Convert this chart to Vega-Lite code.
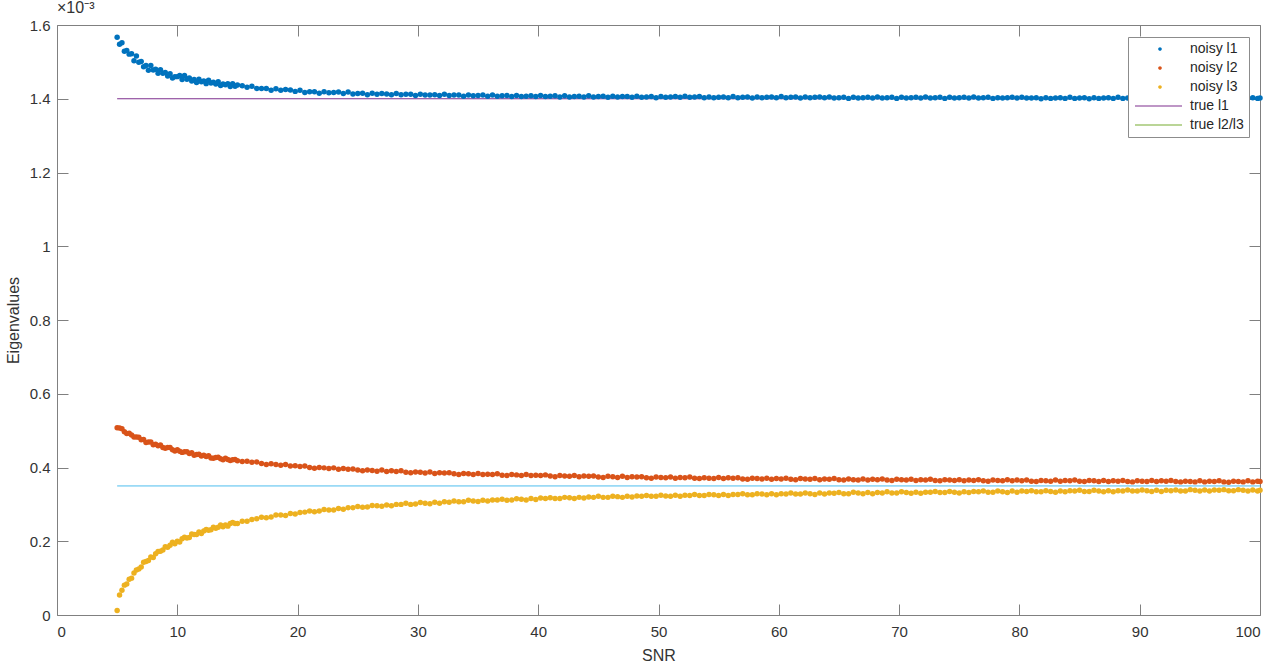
{
  "$schema": "https://vega.github.io/schema/vega-lite/v6.json",
  "width": 1203,
  "height": 590,
  "autosize": {"type": "none"},
  "padding": {"left": 57, "top": 25, "right": 20, "bottom": 56},
  "background": "white",
  "title": {"text": "×10⁻³", "anchor": "start", "frame": "group", "fontSize": 16, "fontWeight": "normal", "color": "#333333", "font": "Liberation Sans", "offset": 2},
  "config": {
    "view": {"stroke": "#808080", "strokeWidth": 1},
    "font": "Liberation Sans",
    "axis": {"grid": false, "domain": false, "tickColor": "#808080", "tickSize": -11, "labelFontSize": 15, "labelColor": "#333333", "titleFontSize": 16, "titleFontWeight": "normal", "titleColor": "#333333", "labelFont": "Liberation Sans", "titleFont": "Liberation Sans"}
  },
  "datasets": {
    "truth": [
      {"s": 5, "v": 1.4, "series": "true l1"},
      {"s": 100, "v": 1.4, "series": "true l1"},
      {"s": 5, "v": 0.35, "series": "true l2/l3"},
      {"s": 100, "v": 0.35, "series": "true l2/l3"}
    ],
    "noisy": [
      {"s":5.0,"noisy l1":1.567,"noisy l2":0.508,"noisy l3":0.012},
      {"s":5.2,"noisy l1":1.548,"noisy l2":0.507,"noisy l3":0.054},
      {"s":5.4,"noisy l1":1.552,"noisy l2":0.505,"noisy l3":0.067},
      {"s":5.6,"noisy l1":1.529,"noisy l2":0.497,"noisy l3":0.081},
      {"s":5.8,"noisy l1":1.531,"noisy l2":0.492,"noisy l3":0.084},
      {"s":6.0,"noisy l1":1.521,"noisy l2":0.493,"noisy l3":0.097},
      {"s":6.2,"noisy l1":1.522,"noisy l2":0.488,"noisy l3":0.100},
      {"s":6.4,"noisy l1":1.503,"noisy l2":0.483,"noisy l3":0.114},
      {"s":6.6,"noisy l1":1.516,"noisy l2":0.483,"noisy l3":0.122},
      {"s":6.8,"noisy l1":1.499,"noisy l2":0.482,"noisy l3":0.125},
      {"s":7.0,"noisy l1":1.501,"noisy l2":0.475,"noisy l3":0.130},
      {"s":7.2,"noisy l1":1.487,"noisy l2":0.476,"noisy l3":0.143},
      {"s":7.4,"noisy l1":1.490,"noisy l2":0.468,"noisy l3":0.145},
      {"s":7.6,"noisy l1":1.477,"noisy l2":0.469,"noisy l3":0.148},
      {"s":7.8,"noisy l1":1.490,"noisy l2":0.469,"noisy l3":0.157},
      {"s":8.0,"noisy l1":1.478,"noisy l2":0.462,"noisy l3":0.156},
      {"s":8.2,"noisy l1":1.480,"noisy l2":0.463,"noisy l3":0.166},
      {"s":8.4,"noisy l1":1.469,"noisy l2":0.459,"noisy l3":0.172},
      {"s":8.6,"noisy l1":1.479,"noisy l2":0.461,"noisy l3":0.173},
      {"s":8.8,"noisy l1":1.469,"noisy l2":0.454,"noisy l3":0.176},
      {"s":9.0,"noisy l1":1.471,"noisy l2":0.452,"noisy l3":0.185},
      {"s":9.2,"noisy l1":1.462,"noisy l2":0.454,"noisy l3":0.184},
      {"s":9.4,"noisy l1":1.468,"noisy l2":0.454,"noisy l3":0.189},
      {"s":9.6,"noisy l1":1.456,"noisy l2":0.448,"noisy l3":0.197},
      {"s":9.8,"noisy l1":1.460,"noisy l2":0.445,"noisy l3":0.193},
      {"s":10.0,"noisy l1":1.460,"noisy l2":0.448,"noisy l3":0.200},
      {"s":10.2,"noisy l1":1.463,"noisy l2":0.444,"noisy l3":0.198},
      {"s":10.4,"noisy l1":1.452,"noisy l2":0.441,"noisy l3":0.207},
      {"s":10.6,"noisy l1":1.463,"noisy l2":0.443,"noisy l3":0.211},
      {"s":10.8,"noisy l1":1.453,"noisy l2":0.443,"noisy l3":0.209},
      {"s":11.0,"noisy l1":1.456,"noisy l2":0.438,"noisy l3":0.210},
      {"s":11.2,"noisy l1":1.448,"noisy l2":0.440,"noisy l3":0.220},
      {"s":11.4,"noisy l1":1.452,"noisy l2":0.433,"noisy l3":0.218},
      {"s":11.6,"noisy l1":1.444,"noisy l2":0.435,"noisy l3":0.218},
      {"s":11.8,"noisy l1":1.453,"noisy l2":0.436,"noisy l3":0.225},
      {"s":12.0,"noisy l1":1.446,"noisy l2":0.431,"noisy l3":0.221},
      {"s":12.2,"noisy l1":1.448,"noisy l2":0.433,"noisy l3":0.228},
      {"s":12.4,"noisy l1":1.441,"noisy l2":0.430,"noisy l3":0.232},
      {"s":12.6,"noisy l1":1.450,"noisy l2":0.432,"noisy l3":0.230},
      {"s":12.8,"noisy l1":1.443,"noisy l2":0.426,"noisy l3":0.231},
      {"s":13.0,"noisy l1":1.445,"noisy l2":0.425,"noisy l3":0.238},
      {"s":13.2,"noisy l1":1.440,"noisy l2":0.427,"noisy l3":0.235},
      {"s":13.4,"noisy l1":1.446,"noisy l2":0.428,"noisy l3":0.238},
      {"s":13.6,"noisy l1":1.436,"noisy l2":0.424,"noisy l3":0.244},
      {"s":13.8,"noisy l1":1.440,"noisy l2":0.421,"noisy l3":0.239},
      {"s":14.0,"noisy l1":1.438,"noisy l2":0.425,"noisy l3":0.244},
      {"s":14.2,"noisy l1":1.441,"noisy l2":0.422,"noisy l3":0.241},
      {"s":14.4,"noisy l1":1.433,"noisy l2":0.419,"noisy l3":0.248},
      {"s":14.6,"noisy l1":1.441,"noisy l2":0.421,"noisy l3":0.251},
      {"s":14.8,"noisy l1":1.434,"noisy l2":0.422,"noisy l3":0.248},
      {"s":15.0,"noisy l1":1.437,"noisy l2":0.418,"noisy l3":0.248},
      {"s":15.4,"noisy l1":1.435,"noisy l2":0.416,"noisy l3":0.254},
      {"s":15.8,"noisy l1":1.431,"noisy l2":0.417,"noisy l3":0.254},
      {"s":16.2,"noisy l1":1.434,"noisy l2":0.414,"noisy l3":0.259},
      {"s":16.6,"noisy l1":1.428,"noisy l2":0.415,"noisy l3":0.261},
      {"s":17.0,"noisy l1":1.428,"noisy l2":0.411,"noisy l3":0.265},
      {"s":17.4,"noisy l1":1.428,"noisy l2":0.408,"noisy l3":0.264},
      {"s":17.8,"noisy l1":1.423,"noisy l2":0.410,"noisy l3":0.266},
      {"s":18.2,"noisy l1":1.427,"noisy l2":0.408,"noisy l3":0.271},
      {"s":18.6,"noisy l1":1.423,"noisy l2":0.406,"noisy l3":0.271},
      {"s":19.0,"noisy l1":1.425,"noisy l2":0.408,"noisy l3":0.270},
      {"s":19.4,"noisy l1":1.424,"noisy l2":0.404,"noisy l3":0.275},
      {"s":19.8,"noisy l1":1.420,"noisy l2":0.405,"noisy l3":0.274},
      {"s":20.2,"noisy l1":1.423,"noisy l2":0.403,"noisy l3":0.278},
      {"s":20.6,"noisy l1":1.417,"noisy l2":0.404,"noisy l3":0.279},
      {"s":21.0,"noisy l1":1.419,"noisy l2":0.400,"noisy l3":0.282},
      {"s":21.4,"noisy l1":1.419,"noisy l2":0.398,"noisy l3":0.280},
      {"s":21.8,"noisy l1":1.415,"noisy l2":0.400,"noisy l3":0.282},
      {"s":22.2,"noisy l1":1.419,"noisy l2":0.399,"noisy l3":0.286},
      {"s":22.6,"noisy l1":1.416,"noisy l2":0.397,"noisy l3":0.285},
      {"s":23.0,"noisy l1":1.417,"noisy l2":0.399,"noisy l3":0.285},
      {"s":23.4,"noisy l1":1.418,"noisy l2":0.395,"noisy l3":0.289},
      {"s":23.8,"noisy l1":1.414,"noisy l2":0.397,"noisy l3":0.287},
      {"s":24.2,"noisy l1":1.418,"noisy l2":0.395,"noisy l3":0.291},
      {"s":24.6,"noisy l1":1.413,"noisy l2":0.396,"noisy l3":0.291},
      {"s":25.0,"noisy l1":1.414,"noisy l2":0.393,"noisy l3":0.294},
      {"s":25.4,"noisy l1":1.415,"noisy l2":0.391,"noisy l3":0.292},
      {"s":25.8,"noisy l1":1.411,"noisy l2":0.393,"noisy l3":0.293},
      {"s":26.2,"noisy l1":1.415,"noisy l2":0.392,"noisy l3":0.297},
      {"s":26.6,"noisy l1":1.412,"noisy l2":0.390,"noisy l3":0.296},
      {"s":27.0,"noisy l1":1.414,"noisy l2":0.393,"noisy l3":0.295},
      {"s":27.4,"noisy l1":1.413,"noisy l2":0.389,"noisy l3":0.298},
      {"s":27.8,"noisy l1":1.411,"noisy l2":0.391,"noisy l3":0.296},
      {"s":28.2,"noisy l1":1.414,"noisy l2":0.389,"noisy l3":0.300},
      {"s":28.6,"noisy l1":1.411,"noisy l2":0.391,"noisy l3":0.300},
      {"s":29.0,"noisy l1":1.412,"noisy l2":0.387,"noisy l3":0.303},
      {"s":29.4,"noisy l1":1.412,"noisy l2":0.386,"noisy l3":0.300},
      {"s":29.8,"noisy l1":1.409,"noisy l2":0.388,"noisy l3":0.301},
      {"s":30.2,"noisy l1":1.412,"noisy l2":0.387,"noisy l3":0.305},
      {"s":30.6,"noisy l1":1.410,"noisy l2":0.385,"noisy l3":0.303},
      {"s":31.0,"noisy l1":1.410,"noisy l2":0.388,"noisy l3":0.302},
      {"s":31.4,"noisy l1":1.411,"noisy l2":0.384,"noisy l3":0.306},
      {"s":31.8,"noisy l1":1.409,"noisy l2":0.386,"noisy l3":0.303},
      {"s":32.2,"noisy l1":1.412,"noisy l2":0.385,"noisy l3":0.307},
      {"s":32.6,"noisy l1":1.409,"noisy l2":0.386,"noisy l3":0.306},
      {"s":33.0,"noisy l1":1.410,"noisy l2":0.383,"noisy l3":0.309},
      {"s":33.4,"noisy l1":1.410,"noisy l2":0.381,"noisy l3":0.307},
      {"s":33.8,"noisy l1":1.407,"noisy l2":0.384,"noisy l3":0.307},
      {"s":34.2,"noisy l1":1.410,"noisy l2":0.383,"noisy l3":0.311},
      {"s":34.6,"noisy l1":1.408,"noisy l2":0.381,"noisy l3":0.309},
      {"s":35.0,"noisy l1":1.409,"noisy l2":0.384,"noisy l3":0.308},
      {"s":35.4,"noisy l1":1.410,"noisy l2":0.381,"noisy l3":0.311},
      {"s":35.8,"noisy l1":1.407,"noisy l2":0.382,"noisy l3":0.309},
      {"s":36.2,"noisy l1":1.410,"noisy l2":0.381,"noisy l3":0.312},
      {"s":36.6,"noisy l1":1.407,"noisy l2":0.383,"noisy l3":0.312},
      {"s":37.0,"noisy l1":1.408,"noisy l2":0.379,"noisy l3":0.314},
      {"s":37.4,"noisy l1":1.409,"noisy l2":0.378,"noisy l3":0.311},
      {"s":37.8,"noisy l1":1.406,"noisy l2":0.381,"noisy l3":0.312},
      {"s":38.2,"noisy l1":1.409,"noisy l2":0.380,"noisy l3":0.315},
      {"s":38.6,"noisy l1":1.406,"noisy l2":0.378,"noisy l3":0.314},
      {"s":39.0,"noisy l1":1.407,"noisy l2":0.381,"noisy l3":0.312},
      {"s":39.4,"noisy l1":1.408,"noisy l2":0.378,"noisy l3":0.316},
      {"s":39.8,"noisy l1":1.406,"noisy l2":0.379,"noisy l3":0.313},
      {"s":40.2,"noisy l1":1.409,"noisy l2":0.378,"noisy l3":0.317},
      {"s":40.6,"noisy l1":1.406,"noisy l2":0.380,"noisy l3":0.316},
      {"s":41.0,"noisy l1":1.407,"noisy l2":0.377,"noisy l3":0.318},
      {"s":41.4,"noisy l1":1.408,"noisy l2":0.375,"noisy l3":0.316},
      {"s":41.8,"noisy l1":1.405,"noisy l2":0.378,"noisy l3":0.316},
      {"s":42.2,"noisy l1":1.408,"noisy l2":0.377,"noisy l3":0.319},
      {"s":42.6,"noisy l1":1.405,"noisy l2":0.376,"noisy l3":0.318},
      {"s":43.0,"noisy l1":1.406,"noisy l2":0.378,"noisy l3":0.316},
      {"s":43.4,"noisy l1":1.407,"noisy l2":0.375,"noisy l3":0.319},
      {"s":43.8,"noisy l1":1.405,"noisy l2":0.377,"noisy l3":0.317},
      {"s":44.2,"noisy l1":1.408,"noisy l2":0.376,"noisy l3":0.320},
      {"s":44.6,"noisy l1":1.405,"noisy l2":0.377,"noisy l3":0.319},
      {"s":45.0,"noisy l1":1.406,"noisy l2":0.374,"noisy l3":0.322},
      {"s":45.4,"noisy l1":1.407,"noisy l2":0.373,"noisy l3":0.319},
      {"s":45.8,"noisy l1":1.404,"noisy l2":0.376,"noisy l3":0.319},
      {"s":46.2,"noisy l1":1.407,"noisy l2":0.375,"noisy l3":0.322},
      {"s":46.6,"noisy l1":1.405,"noisy l2":0.373,"noisy l3":0.321},
      {"s":47.0,"noisy l1":1.406,"noisy l2":0.376,"noisy l3":0.319},
      {"s":47.4,"noisy l1":1.406,"noisy l2":0.373,"noisy l3":0.322},
      {"s":47.8,"noisy l1":1.404,"noisy l2":0.375,"noisy l3":0.320},
      {"s":48.2,"noisy l1":1.407,"noisy l2":0.374,"noisy l3":0.323},
      {"s":48.6,"noisy l1":1.404,"noisy l2":0.375,"noisy l3":0.322},
      {"s":49.0,"noisy l1":1.405,"noisy l2":0.372,"noisy l3":0.324},
      {"s":49.4,"noisy l1":1.406,"noisy l2":0.371,"noisy l3":0.322},
      {"s":49.8,"noisy l1":1.403,"noisy l2":0.374,"noisy l3":0.322},
      {"s":50.2,"noisy l1":1.406,"noisy l2":0.373,"noisy l3":0.325},
      {"s":50.6,"noisy l1":1.404,"noisy l2":0.372,"noisy l3":0.323},
      {"s":51.0,"noisy l1":1.405,"noisy l2":0.374,"noisy l3":0.322},
      {"s":51.4,"noisy l1":1.406,"noisy l2":0.371,"noisy l3":0.325},
      {"s":51.8,"noisy l1":1.404,"noisy l2":0.373,"noisy l3":0.322},
      {"s":52.2,"noisy l1":1.407,"noisy l2":0.372,"noisy l3":0.325},
      {"s":52.6,"noisy l1":1.404,"noisy l2":0.374,"noisy l3":0.324},
      {"s":53.0,"noisy l1":1.405,"noisy l2":0.371,"noisy l3":0.327},
      {"s":53.4,"noisy l1":1.406,"noisy l2":0.370,"noisy l3":0.324},
      {"s":53.8,"noisy l1":1.403,"noisy l2":0.372,"noisy l3":0.324},
      {"s":54.2,"noisy l1":1.405,"noisy l2":0.371,"noisy l3":0.327},
      {"s":54.6,"noisy l1":1.403,"noisy l2":0.370,"noisy l3":0.326},
      {"s":55.0,"noisy l1":1.404,"noisy l2":0.373,"noisy l3":0.324},
      {"s":55.4,"noisy l1":1.405,"noisy l2":0.370,"noisy l3":0.327},
      {"s":55.8,"noisy l1":1.403,"noisy l2":0.372,"noisy l3":0.324},
      {"s":56.2,"noisy l1":1.406,"noisy l2":0.371,"noisy l3":0.327},
      {"s":56.6,"noisy l1":1.403,"noisy l2":0.372,"noisy l3":0.327},
      {"s":57.0,"noisy l1":1.404,"noisy l2":0.369,"noisy l3":0.329},
      {"s":57.4,"noisy l1":1.405,"noisy l2":0.368,"noisy l3":0.326},
      {"s":57.8,"noisy l1":1.402,"noisy l2":0.371,"noisy l3":0.326},
      {"s":58.2,"noisy l1":1.405,"noisy l2":0.370,"noisy l3":0.329},
      {"s":58.6,"noisy l1":1.403,"noisy l2":0.369,"noisy l3":0.328},
      {"s":59.0,"noisy l1":1.404,"noisy l2":0.371,"noisy l3":0.326},
      {"s":59.4,"noisy l1":1.405,"noisy l2":0.368,"noisy l3":0.329},
      {"s":59.8,"noisy l1":1.403,"noisy l2":0.370,"noisy l3":0.326},
      {"s":60.2,"noisy l1":1.406,"noisy l2":0.369,"noisy l3":0.329},
      {"s":60.6,"noisy l1":1.403,"noisy l2":0.371,"noisy l3":0.328},
      {"s":61.0,"noisy l1":1.404,"noisy l2":0.368,"noisy l3":0.331},
      {"s":61.4,"noisy l1":1.405,"noisy l2":0.367,"noisy l3":0.328},
      {"s":61.8,"noisy l1":1.402,"noisy l2":0.370,"noisy l3":0.328},
      {"s":62.2,"noisy l1":1.405,"noisy l2":0.369,"noisy l3":0.331},
      {"s":62.6,"noisy l1":1.403,"noisy l2":0.368,"noisy l3":0.329},
      {"s":63.0,"noisy l1":1.404,"noisy l2":0.370,"noisy l3":0.327},
      {"s":63.4,"noisy l1":1.405,"noisy l2":0.367,"noisy l3":0.331},
      {"s":63.8,"noisy l1":1.403,"noisy l2":0.369,"noisy l3":0.328},
      {"s":64.2,"noisy l1":1.405,"noisy l2":0.368,"noisy l3":0.331},
      {"s":64.6,"noisy l1":1.402,"noisy l2":0.370,"noisy l3":0.330},
      {"s":65.0,"noisy l1":1.403,"noisy l2":0.367,"noisy l3":0.332},
      {"s":65.4,"noisy l1":1.404,"noisy l2":0.366,"noisy l3":0.329},
      {"s":65.8,"noisy l1":1.401,"noisy l2":0.369,"noisy l3":0.329},
      {"s":66.2,"noisy l1":1.404,"noisy l2":0.367,"noisy l3":0.333},
      {"s":66.6,"noisy l1":1.402,"noisy l2":0.366,"noisy l3":0.331},
      {"s":67.0,"noisy l1":1.403,"noisy l2":0.369,"noisy l3":0.329},
      {"s":67.4,"noisy l1":1.404,"noisy l2":0.366,"noisy l3":0.332},
      {"s":67.8,"noisy l1":1.402,"noisy l2":0.368,"noisy l3":0.329},
      {"s":68.2,"noisy l1":1.405,"noisy l2":0.367,"noisy l3":0.332},
      {"s":68.6,"noisy l1":1.402,"noisy l2":0.369,"noisy l3":0.331},
      {"s":69.0,"noisy l1":1.403,"noisy l2":0.366,"noisy l3":0.334},
      {"s":69.4,"noisy l1":1.404,"noisy l2":0.365,"noisy l3":0.331},
      {"s":69.8,"noisy l1":1.401,"noisy l2":0.368,"noisy l3":0.331},
      {"s":70.2,"noisy l1":1.404,"noisy l2":0.367,"noisy l3":0.334},
      {"s":70.6,"noisy l1":1.402,"noisy l2":0.366,"noisy l3":0.332},
      {"s":71.0,"noisy l1":1.403,"noisy l2":0.368,"noisy l3":0.330},
      {"s":71.4,"noisy l1":1.404,"noisy l2":0.365,"noisy l3":0.333},
      {"s":71.8,"noisy l1":1.402,"noisy l2":0.367,"noisy l3":0.330},
      {"s":72.2,"noisy l1":1.405,"noisy l2":0.366,"noisy l3":0.333},
      {"s":72.6,"noisy l1":1.402,"noisy l2":0.368,"noisy l3":0.333},
      {"s":73.0,"noisy l1":1.403,"noisy l2":0.365,"noisy l3":0.335},
      {"s":73.4,"noisy l1":1.404,"noisy l2":0.364,"noisy l3":0.332},
      {"s":73.8,"noisy l1":1.401,"noisy l2":0.367,"noisy l3":0.332},
      {"s":74.2,"noisy l1":1.404,"noisy l2":0.366,"noisy l3":0.335},
      {"s":74.6,"noisy l1":1.402,"noisy l2":0.365,"noisy l3":0.333},
      {"s":75.0,"noisy l1":1.403,"noisy l2":0.367,"noisy l3":0.331},
      {"s":75.4,"noisy l1":1.404,"noisy l2":0.364,"noisy l3":0.334},
      {"s":75.8,"noisy l1":1.402,"noisy l2":0.366,"noisy l3":0.332},
      {"s":76.2,"noisy l1":1.405,"noisy l2":0.365,"noisy l3":0.335},
      {"s":76.6,"noisy l1":1.402,"noisy l2":0.367,"noisy l3":0.334},
      {"s":77.0,"noisy l1":1.403,"noisy l2":0.364,"noisy l3":0.336},
      {"s":77.4,"noisy l1":1.404,"noisy l2":0.363,"noisy l3":0.333},
      {"s":77.8,"noisy l1":1.401,"noisy l2":0.366,"noisy l3":0.333},
      {"s":78.2,"noisy l1":1.403,"noisy l2":0.365,"noisy l3":0.336},
      {"s":78.6,"noisy l1":1.402,"noisy l2":0.364,"noisy l3":0.334},
      {"s":79.0,"noisy l1":1.403,"noisy l2":0.367,"noisy l3":0.332},
      {"s":79.4,"noisy l1":1.404,"noisy l2":0.364,"noisy l3":0.336},
      {"s":79.8,"noisy l1":1.402,"noisy l2":0.366,"noisy l3":0.333},
      {"s":80.2,"noisy l1":1.404,"noisy l2":0.364,"noisy l3":0.336},
      {"s":80.6,"noisy l1":1.402,"noisy l2":0.366,"noisy l3":0.335},
      {"s":81.0,"noisy l1":1.402,"noisy l2":0.363,"noisy l3":0.337},
      {"s":81.4,"noisy l1":1.403,"noisy l2":0.362,"noisy l3":0.334},
      {"s":81.8,"noisy l1":1.400,"noisy l2":0.365,"noisy l3":0.334},
      {"s":82.2,"noisy l1":1.403,"noisy l2":0.364,"noisy l3":0.337},
      {"s":82.6,"noisy l1":1.401,"noisy l2":0.363,"noisy l3":0.335},
      {"s":83.0,"noisy l1":1.402,"noisy l2":0.366,"noisy l3":0.333},
      {"s":83.4,"noisy l1":1.403,"noisy l2":0.363,"noisy l3":0.336},
      {"s":83.8,"noisy l1":1.401,"noisy l2":0.365,"noisy l3":0.334},
      {"s":84.2,"noisy l1":1.404,"noisy l2":0.364,"noisy l3":0.337},
      {"s":84.6,"noisy l1":1.401,"noisy l2":0.366,"noisy l3":0.336},
      {"s":85.0,"noisy l1":1.402,"noisy l2":0.363,"noisy l3":0.338},
      {"s":85.4,"noisy l1":1.403,"noisy l2":0.362,"noisy l3":0.335},
      {"s":85.8,"noisy l1":1.400,"noisy l2":0.365,"noisy l3":0.335},
      {"s":86.2,"noisy l1":1.403,"noisy l2":0.364,"noisy l3":0.338},
      {"s":86.6,"noisy l1":1.401,"noisy l2":0.362,"noisy l3":0.336},
      {"s":87.0,"noisy l1":1.402,"noisy l2":0.365,"noisy l3":0.334},
      {"s":87.4,"noisy l1":1.403,"noisy l2":0.362,"noisy l3":0.337},
      {"s":87.8,"noisy l1":1.401,"noisy l2":0.364,"noisy l3":0.334},
      {"s":88.2,"noisy l1":1.404,"noisy l2":0.363,"noisy l3":0.337},
      {"s":88.6,"noisy l1":1.401,"noisy l2":0.365,"noisy l3":0.336},
      {"s":89.0,"noisy l1":1.402,"noisy l2":0.362,"noisy l3":0.339},
      {"s":89.4,"noisy l1":1.403,"noisy l2":0.361,"noisy l3":0.336},
      {"s":89.8,"noisy l1":1.400,"noisy l2":0.364,"noisy l3":0.336},
      {"s":90.2,"noisy l1":1.403,"noisy l2":0.363,"noisy l3":0.339},
      {"s":90.6,"noisy l1":1.401,"noisy l2":0.362,"noisy l3":0.337},
      {"s":91.0,"noisy l1":1.402,"noisy l2":0.365,"noisy l3":0.335},
      {"s":91.4,"noisy l1":1.403,"noisy l2":0.362,"noisy l3":0.338},
      {"s":91.8,"noisy l1":1.401,"noisy l2":0.364,"noisy l3":0.335},
      {"s":92.2,"noisy l1":1.404,"noisy l2":0.363,"noisy l3":0.338},
      {"s":92.6,"noisy l1":1.401,"noisy l2":0.365,"noisy l3":0.337},
      {"s":93.0,"noisy l1":1.402,"noisy l2":0.362,"noisy l3":0.339},
      {"s":93.4,"noisy l1":1.403,"noisy l2":0.361,"noisy l3":0.336},
      {"s":93.8,"noisy l1":1.400,"noisy l2":0.363,"noisy l3":0.336},
      {"s":94.2,"noisy l1":1.403,"noisy l2":0.362,"noisy l3":0.340},
      {"s":94.6,"noisy l1":1.401,"noisy l2":0.361,"noisy l3":0.338},
      {"s":95.0,"noisy l1":1.402,"noisy l2":0.364,"noisy l3":0.336},
      {"s":95.4,"noisy l1":1.403,"noisy l2":0.361,"noisy l3":0.339},
      {"s":95.8,"noisy l1":1.401,"noisy l2":0.363,"noisy l3":0.336},
      {"s":96.2,"noisy l1":1.404,"noisy l2":0.362,"noisy l3":0.339},
      {"s":96.6,"noisy l1":1.401,"noisy l2":0.364,"noisy l3":0.338},
      {"s":97.0,"noisy l1":1.402,"noisy l2":0.361,"noisy l3":0.340},
      {"s":97.4,"noisy l1":1.403,"noisy l2":0.360,"noisy l3":0.337},
      {"s":97.8,"noisy l1":1.400,"noisy l2":0.363,"noisy l3":0.337},
      {"s":98.2,"noisy l1":1.403,"noisy l2":0.362,"noisy l3":0.340},
      {"s":98.6,"noisy l1":1.401,"noisy l2":0.361,"noisy l3":0.338},
      {"s":99.0,"noisy l1":1.402,"noisy l2":0.364,"noisy l3":0.336},
      {"s":99.4,"noisy l1":1.403,"noisy l2":0.361,"noisy l3":0.339},
      {"s":99.8,"noisy l1":1.401,"noisy l2":0.363,"noisy l3":0.336},
      {"s":100.0,"noisy l1":1.402,"noisy l2":0.362,"noisy l3":0.338}
    ]
  },
  "resolve": {"axis": {"x": "independent", "y": "independent"}},
  "layer": [
    {
      "data": {"name": "truth"},
      "mark": {"type": "line", "strokeWidth": 1},
      "encoding": {
        "x": {"field": "s", "type": "quantitative", "scale": {"domain": [0, 100], "nice": false, "zero": false},
              "axis": {"orient": "bottom", "values": [0,10,20,30,40,50,60,70,80,90,100], "title": "SNR", "labelPadding": 20, "titlePadding": 8}},
        "y": {"field": "v", "type": "quantitative", "scale": {"domain": [0, 1.6], "nice": false, "zero": false},
              "axis": {"orient": "left", "values": [0,0.2,0.4,0.6,0.8,1,1.2,1.4,1.6], "format": "~g", "title": "Eigenvalues", "labelPadding": 18, "titlePadding": 8}},
        "color": {"field": "series", "type": "nominal",
                  "scale": {"domain": ["noisy l1", "noisy l2", "noisy l3", "true l1", "true l2/l3"], "range": ["#0072BD", "#D95319", "#EDB120", "#7E2F8E", "#77AC30"]},
                  "legend": {"orient": "none", "legendX": 1071, "legendY": 12, "title": null, "fillColor": "white", "strokeColor": "#8c8c8c", "padding": 5,
                             "labelFontSize": 14, "labelColor": "#262626", "labelFont": "Liberation Sans", "symbolSize": 100, "labelOffset": 43, "rowPadding": 5,
                             "encode": {"symbols": {"update": {
                               "shape": {"signal": "indexof(datum.value, 'true') === 0 ? 'M-1,-0.1H8.4V0.1H-1Z' : 'M3.64,0a0.36,0.36 0 1,0 0.72,0a0.36,0.36 0 1,0 -0.72,0'"},
                               "fill": {"scale": "color", "field": "value"},
                               "stroke": {"value": "transparent"},
                               "strokeWidth": {"value": 0},
                               "opacity": {"value": 1}}}}}},
        "strokeOpacity": {"condition": {"test": "datum.series === 'true l2/l3'", "value": 0}, "value": 1}
      }
    },
    {
      "data": {"name": "truth"},
      "transform": [{"filter": "datum.series === 'true l2/l3'"}],
      "mark": {"type": "line", "strokeWidth": 1, "color": "#4DBEEE"},
      "encoding": {
        "x": {"field": "s", "type": "quantitative", "axis": null},
        "y": {"field": "v", "type": "quantitative", "axis": null}
      }
    },
    {
      "data": {"name": "noisy"},
      "transform": [{"fold": ["noisy l1", "noisy l2", "noisy l3"], "as": ["series", "v"]}],
      "mark": {"type": "point", "filled": true, "shape": "circle", "size": 30, "opacity": 1},
      "encoding": {
        "x": {"field": "s", "type": "quantitative", "axis": {"orient": "top", "values": [0,10,20,30,40,50,60,70,80,90,100], "labels": false, "title": null}},
        "y": {"field": "v", "type": "quantitative", "axis": {"orient": "right", "values": [0,0.2,0.4,0.6,0.8,1,1.2,1.4,1.6], "labels": false, "title": null}},
        "color": {"field": "series", "type": "nominal"}
      }
    }
  ]
}
